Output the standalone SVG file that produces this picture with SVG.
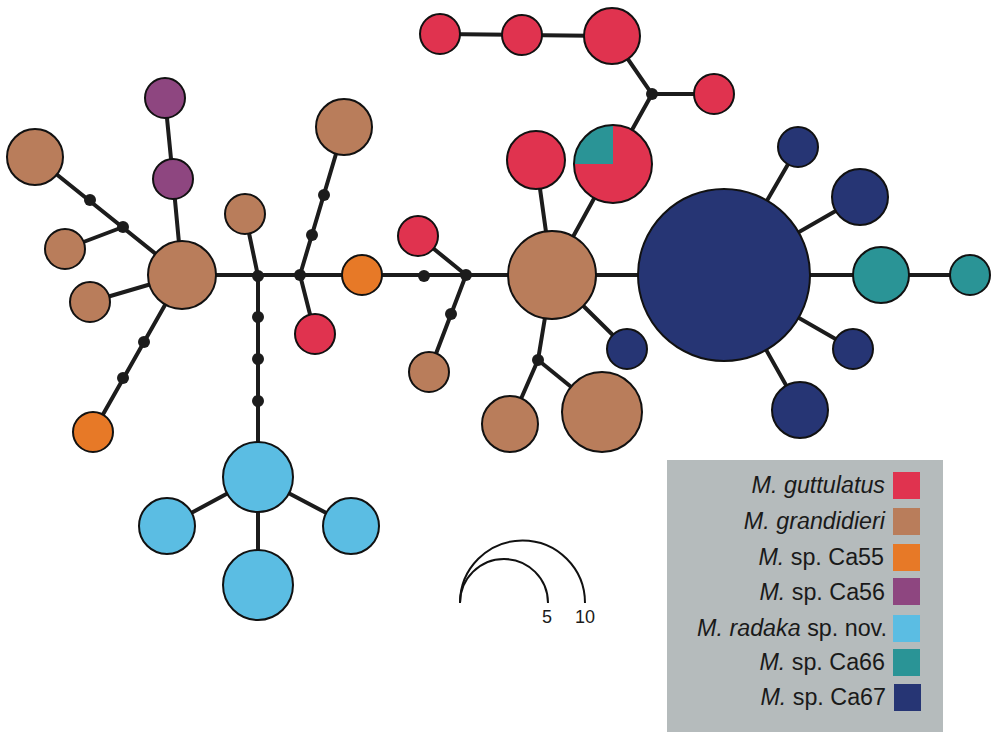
<svg xmlns="http://www.w3.org/2000/svg" width="991" height="732" viewBox="0 0 991 732">
<style>
.e{stroke:#1c1c1c;stroke-width:4;fill:none;stroke-linecap:round}
.n{stroke:#111;stroke-width:2}
.gut{fill:#e0334f}.gra{fill:#b97d5b}.c55{fill:#e77927}.c56{fill:#8e4680}.rad{fill:#5bbde3}.c66{fill:#2a9496}.c67{fill:#263574}
.mv{fill:#1c1c1c}
.lt{font-family:"Liberation Sans",Arial,sans-serif;font-size:23.3px;fill:#1a1a1a;text-anchor:end}
.sc{font-family:"Liberation Sans",Arial,sans-serif;font-size:18px;fill:#1a1a1a;text-anchor:middle}
</style>
<rect width="991" height="732" fill="#fff"/>
<g id="connectors" class="e">
<line x1="182" y1="275" x2="724" y2="275"/>
<line x1="724" y1="275" x2="970" y2="275"/>
<line x1="182" y1="275" x2="35" y2="157"/>
<line x1="123" y1="227" x2="65" y2="249"/>
<line x1="182" y1="275" x2="90" y2="302"/>
<line x1="182" y1="275" x2="93" y2="432"/>
<polyline points="182,275 173,179 165,98"/>
<line x1="258" y1="276" x2="245" y2="214"/>
<line x1="258" y1="276" x2="258" y2="477"/>
<line x1="300" y1="275" x2="344" y2="127"/>
<line x1="300" y1="275" x2="315" y2="334"/>
<line x1="466" y1="275" x2="418" y2="236"/>
<line x1="466" y1="275" x2="429" y2="372"/>
<line x1="552" y1="275" x2="536" y2="160"/>
<line x1="552" y1="275" x2="613" y2="164"/>
<polyline points="613,164 652,94 612,36"/>
<line x1="652" y1="94" x2="714" y2="94"/>
<polyline points="612,36 522,35 440,34"/>
<line x1="552" y1="275" x2="627" y2="349"/>
<line x1="552" y1="275" x2="538" y2="360"/>
<line x1="538" y1="360" x2="510" y2="424"/>
<line x1="538" y1="360" x2="602" y2="412"/>
<line x1="724" y1="275" x2="798" y2="147"/>
<line x1="724" y1="275" x2="860" y2="197"/>
<line x1="724" y1="275" x2="853" y2="349"/>
<line x1="724" y1="275" x2="800" y2="410"/>
<line x1="258" y1="477" x2="167" y2="526"/>
<line x1="258" y1="477" x2="351" y2="526"/>
<line x1="258" y1="477" x2="258" y2="585"/>
</g>
<g id="median-vectors" class="mv">
<circle cx="90" cy="200" r="6"/><circle cx="123" cy="227" r="6"/>
<circle cx="144" cy="342" r="6"/><circle cx="123" cy="378" r="6"/>
<circle cx="258" cy="276" r="6"/><circle cx="258" cy="317" r="6"/><circle cx="258" cy="359" r="6"/><circle cx="258" cy="401" r="6"/>
<circle cx="300" cy="275" r="6"/><circle cx="312" cy="235" r="6"/><circle cx="324" cy="195" r="6"/>
<circle cx="424" cy="276" r="6"/><circle cx="466" cy="275" r="6"/><circle cx="451" cy="314" r="6"/>
<circle cx="652" cy="94" r="6"/><circle cx="538" cy="360" r="6"/>
</g>
<g id="h-gra-hub-left"><circle class="n gra" cx="182" cy="275" r="34"/></g>
<g id="h-gra-tl"><circle class="n gra" cx="35" cy="157" r="28"/></g>
<g id="h-gra-l1"><circle class="n gra" cx="65" cy="249" r="20"/></g>
<g id="h-gra-l2"><circle class="n gra" cx="90" cy="302" r="20"/></g>
<g id="h-c55-l"><circle class="n c55" cx="93" cy="432" r="20"/></g>
<g id="h-c56-a"><circle class="n c56" cx="173" cy="179" r="20"/></g>
<g id="h-c56-b"><circle class="n c56" cx="165" cy="98" r="20"/></g>
<g id="h-gra-s1"><circle class="n gra" cx="245" cy="214" r="20"/></g>
<g id="h-gra-top"><circle class="n gra" cx="344" cy="127" r="28"/></g>
<g id="h-gut-s1"><circle class="n gut" cx="315" cy="334" r="20"/></g>
<g id="h-c55-m"><circle class="n c55" cx="362" cy="275" r="20"/></g>
<g id="h-gut-s2"><circle class="n gut" cx="418" cy="236" r="20"/></g>
<g id="h-gra-s2"><circle class="n gra" cx="429" cy="372" r="20"/></g>
<g id="h-rad-hub"><circle class="n rad" cx="258" cy="477" r="35"/></g>
<g id="h-rad-l"><circle class="n rad" cx="167" cy="526" r="28"/></g>
<g id="h-rad-r"><circle class="n rad" cx="351" cy="526" r="28"/></g>
<g id="h-rad-b"><circle class="n rad" cx="258" cy="585" r="35"/></g>
<g id="h-gra-hub-mid"><circle class="n gra" cx="552" cy="275" r="44"/></g>
<g id="h-gut-m"><circle class="n gut" cx="536" cy="160" r="29"/></g>
<g id="h-pie">
<circle class="gut" cx="613" cy="164" r="39"/>
<path class="c66" d="M613,164 L613,125 A39,39 0 0 0 574,164 Z"/>
<circle class="n" cx="613" cy="164" r="39" fill="none"/>
</g>
<g id="h-gut-big"><circle class="n gut" cx="612" cy="36" r="28"/></g>
<g id="h-gut-t2"><circle class="n gut" cx="522" cy="35" r="20"/></g>
<g id="h-gut-t1"><circle class="n gut" cx="440" cy="34" r="20"/></g>
<g id="h-gut-t3"><circle class="n gut" cx="714" cy="94" r="20"/></g>
<g id="h-c67-s"><circle class="n c67" cx="627" cy="349" r="20"/></g>
<g id="h-gra-b1"><circle class="n gra" cx="510" cy="424" r="28"/></g>
<g id="h-gra-b2"><circle class="n gra" cx="602" cy="412" r="40"/></g>
<g id="h-c67-hub"><circle class="n c67" cx="724" cy="275" r="86"/></g>
<g id="h-c67-a"><circle class="n c67" cx="798" cy="147" r="20"/></g>
<g id="h-c67-b"><circle class="n c67" cx="860" cy="197" r="28"/></g>
<g id="h-c66-a"><circle class="n c66" cx="881" cy="275" r="28"/></g>
<g id="h-c66-b"><circle class="n c66" cx="970" cy="275" r="20"/></g>
<g id="h-c67-c"><circle class="n c67" cx="853" cy="349" r="20"/></g>
<g id="h-c67-d"><circle class="n c67" cx="800" cy="410" r="28"/></g>
<g id="scale">
<path d="M460,603 A44,44 0 0 1 548,603" fill="none" stroke="#111" stroke-width="2"/>
<path d="M460,603 A62.5,62.5 0 0 1 585,603" fill="none" stroke="#111" stroke-width="2"/>
<text class="sc" x="547" y="623">5</text>
<text class="sc" x="585" y="623">10</text>
</g>
<g id="legend">
<rect x="667" y="460" width="276" height="272" fill="#b5bbbc"/>
<text class="lt" x="885" y="493"><tspan font-style="italic">M. guttulatus</tspan></text>
<text class="lt" x="885" y="529"><tspan font-style="italic">M. grandidieri</tspan></text>
<text class="lt" x="884" y="565"><tspan font-style="italic">M.</tspan> sp. Ca55</text>
<text class="lt" x="885" y="600"><tspan font-style="italic">M.</tspan> sp. Ca56</text>
<text class="lt" x="887" y="636"><tspan font-style="italic">M. radaka</tspan> sp. nov.</text>
<text class="lt" x="885" y="670"><tspan font-style="italic">M.</tspan> sp. Ca66</text>
<text class="lt" x="886" y="705"><tspan font-style="italic">M.</tspan> sp. Ca67</text>
<rect class="gut" x="893" y="472" width="27" height="27"/>
<rect class="gra" x="893" y="508" width="27" height="27"/>
<rect class="c55" x="893" y="544" width="27" height="27"/>
<rect class="c56" x="893" y="578" width="27" height="27"/>
<rect class="rad" x="893" y="615" width="27" height="27"/>
<rect class="c66" x="893" y="649" width="27" height="27"/>
<rect class="c67" x="894" y="684" width="27" height="27"/>
</g>
</svg>
